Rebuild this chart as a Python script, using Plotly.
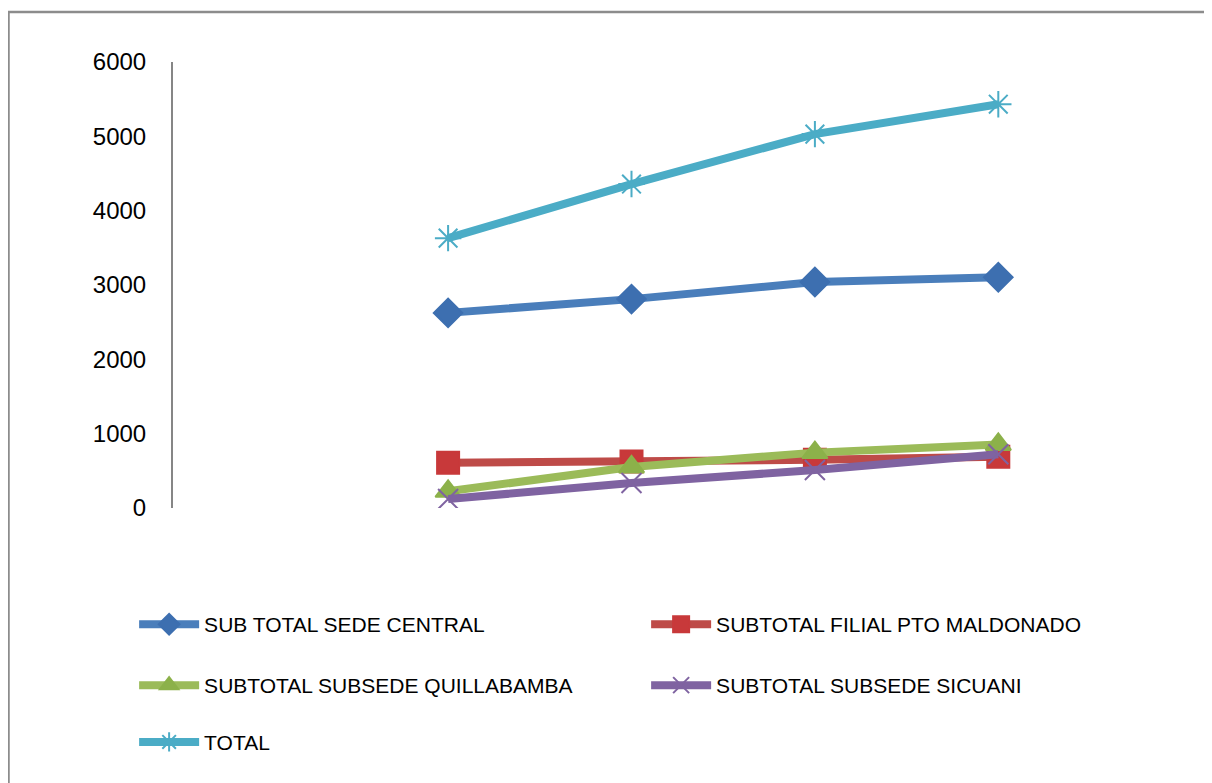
import plotly.graph_objects as go

categories = ["", "1", "2", "3", "4"]
sede_central = [None, 2625, 2810, 3040, 3105]
filial_pto_maldonado = [None, 610, 625, 648, 690]
subsede_quillabamba = [None, 225, 552, 745, 855]
subsede_sicuani = [None, 121, 336, 511, 722]
total = [None, 3630, 4358, 5030, 5432]
y_ticks = [0, 1000, 2000, 3000, 4000, 5000, 6000]

series = [
    ("SUB TOTAL SEDE CENTRAL", sede_central, "#4a7ebb", "#3d6fb0", "diamond", 22, "legend"),
    ("SUBTOTAL FILIAL PTO MALDONADO", filial_pto_maldonado, "#be4b48", "#c8393a", "square", 22, "legend"),
    ("SUBTOTAL SUBSEDE QUILLABAMBA", subsede_quillabamba, "#9bbb59", "#8cb14a", "triangle-up", 22, "legend2"),
    ("SUBTOTAL SUBSEDE SICUANI", subsede_sicuani, "#7f63a1", "#7f63a1", "x-thin-open", 20, "legend2"),
    ("TOTAL", total, "#4bacc6", "#4bacc6", "asterisk-open", 22, "legend3"),
]

fig = go.Figure()
for name, vals, lc, mc, sym, ms, lg in series:
    fig.add_trace(go.Scatter(
        x=categories, y=vals, name=name, mode="lines+markers",
        line=dict(color=lc, width=8),
        marker=dict(symbol=sym, size=ms, color=mc,
                    line=dict(color=mc, width=2)),
        connectgaps=False, legend=lg,
    ))

legend_common = dict(
    orientation="h", xanchor="left", yanchor="top",
    entrywidth=437, entrywidthmode="pixels", itemwidth=60,
    font=dict(size=21), bgcolor="rgba(0,0,0,0)",
)

fig.update_layout(
    width=1204, height=775,
    margin=dict(l=165, r=122, t=54, b=275),
    paper_bgcolor="white", plot_bgcolor="white",
    font=dict(family="Liberation Sans, Arial, sans-serif", size=21, color="black"),
    showlegend=True,
    legend=dict(x=-0.0424, y=-0.2154, **legend_common),
    legend2=dict(x=-0.0424, y=-0.3520, **legend_common),
    legend3=dict(x=-0.0424, y=-0.4794, **legend_common),
    xaxis=dict(
        type="category", range=[-0.5, 4.5], showticklabels=False,
        showgrid=False, zeroline=False, showline=False, ticks="",
    ),
    yaxis=dict(
        range=[0, 6000], tickvals=y_ticks, showgrid=False, zeroline=False,
        showline=True, linecolor="#868686", linewidth=2, ticks="",
        ticklabelstandoff=20, tickfont=dict(size=24),
    ),
    shapes=[dict(
        type="rect", xref="paper", yref="paper",
        x0=(8.5 - 173) / 917, x1=1.3, y0=-1.0, y1=(508 - 12) / 446,
        line=dict(color="#8c8c8c", width=2.5), fillcolor="rgba(0,0,0,0)", layer="below",
    )],
)

fig.write_html("out.html")
